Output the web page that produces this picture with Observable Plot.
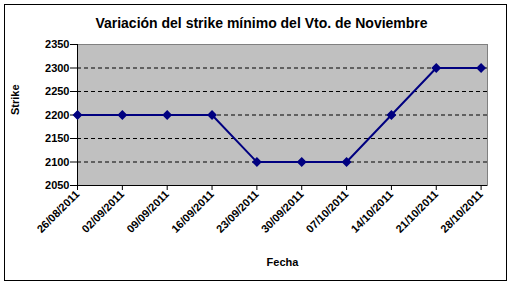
<!DOCTYPE html>
<html>
<head>
<meta charset="utf-8">
<script src="https://cdn.jsdelivr.net/npm/d3@7"></script>
<script src="https://cdn.jsdelivr.net/npm/@observablehq/plot@0.6"></script>
<style>
  html, body { margin: 0; padding: 0; background: #fff; }
  #wrap { position: relative; width: 513px; height: 288px; }
  #frame { position: absolute; left: 4px; top: 4px; width: 503px; height: 277px; border: 1px solid #000; box-sizing: border-box; pointer-events: none; }
  svg { display: block; }
</style>
</head>
<body>
<div id="wrap"><div id="frame"></div></div>
<script>
const fechas = ["2011-08-26","2011-09-02","2011-09-09","2011-09-16","2011-09-23","2011-09-30","2011-10-07","2011-10-14","2011-10-21","2011-10-28"];
const strike = [2200, 2200, 2200, 2200, 2100, 2100, 2100, 2200, 2300, 2300];
const yTicks = [2050, 2100, 2150, 2200, 2250, 2300, 2350];
const gridY = [2100, 2150, 2200, 2250, 2300];
const titulo = "Variación del strike mínimo del Vto. de Noviembre";
const xLabel = "Fecha";
const yLabel = "Strike";

const data = fechas.map((f, i) => ({date: new Date(f + "T00:00:00Z"), value: strike[i]}));
const xDates = data.map(d => d.date);
const fmt = d3.utcFormat("%d/%m/%Y");
const font = "Arial, 'Liberation Sans', sans-serif";

const chart = Plot.plot({
  width: 513,
  height: 288,
  marginLeft: 77,
  marginRight: 26,
  marginTop: 44,
  marginBottom: 103,
  style: {fontFamily: font, background: "transparent", overflow: "visible"},
  x: {type: "utc", domain: [new Date("2011-08-26T00:00:00Z"), new Date("2011-10-29T00:00:00Z")]},
  y: {domain: [2050, 2350]},
  marks: [
    Plot.frame({fill: "#C0C0C0", stroke: "#808080"}),
    Plot.ruleY(gridY, {stroke: "#000", strokeDasharray: "4,3", strokeWidth: 1}),
    Plot.ruleX([new Date("2011-08-26T00:00:00Z")], {stroke: "#000"}),
    Plot.ruleY([2050], {stroke: "#000"}),
    Plot.axisY({ticks: yTicks, tickSize: 7, tickPadding: 1, fontSize: 11, fontWeight: "bold", fill: "#000", label: null, tickFormat: d => String(d)}),
    Plot.axisX({ticks: xDates, tickSize: 5, tickPadding: 2, tickRotate: -45, textAnchor: "end", fontSize: 11, fontWeight: "bold", fill: "#000", label: null, tickFormat: fmt}),
    Plot.line(data, {x: "date", y: "value", stroke: "#000080", strokeWidth: 2}),
    Plot.dot(data, {x: "date", y: "value", symbol: "diamond2", r: 3.5, fill: "#000080", stroke: "#000080"}),
    Plot.text([titulo], {frameAnchor: "top", dy: -26, text: d => d, fontSize: 14, fontWeight: "bold", fill: "#000", dx: -21}),
    Plot.text([xLabel], {frameAnchor: "bottom", dy: 80, text: d => d, fontSize: 11, fontWeight: "bold", fill: "#000"}),
    Plot.text([yLabel], {frameAnchor: "left", dx: -62, rotate: -90, text: d => d, fontSize: 11, fontWeight: "bold", fill: "#000"})
  ]
});
document.getElementById("wrap").prepend(chart);
</script>
</body>
</html>
